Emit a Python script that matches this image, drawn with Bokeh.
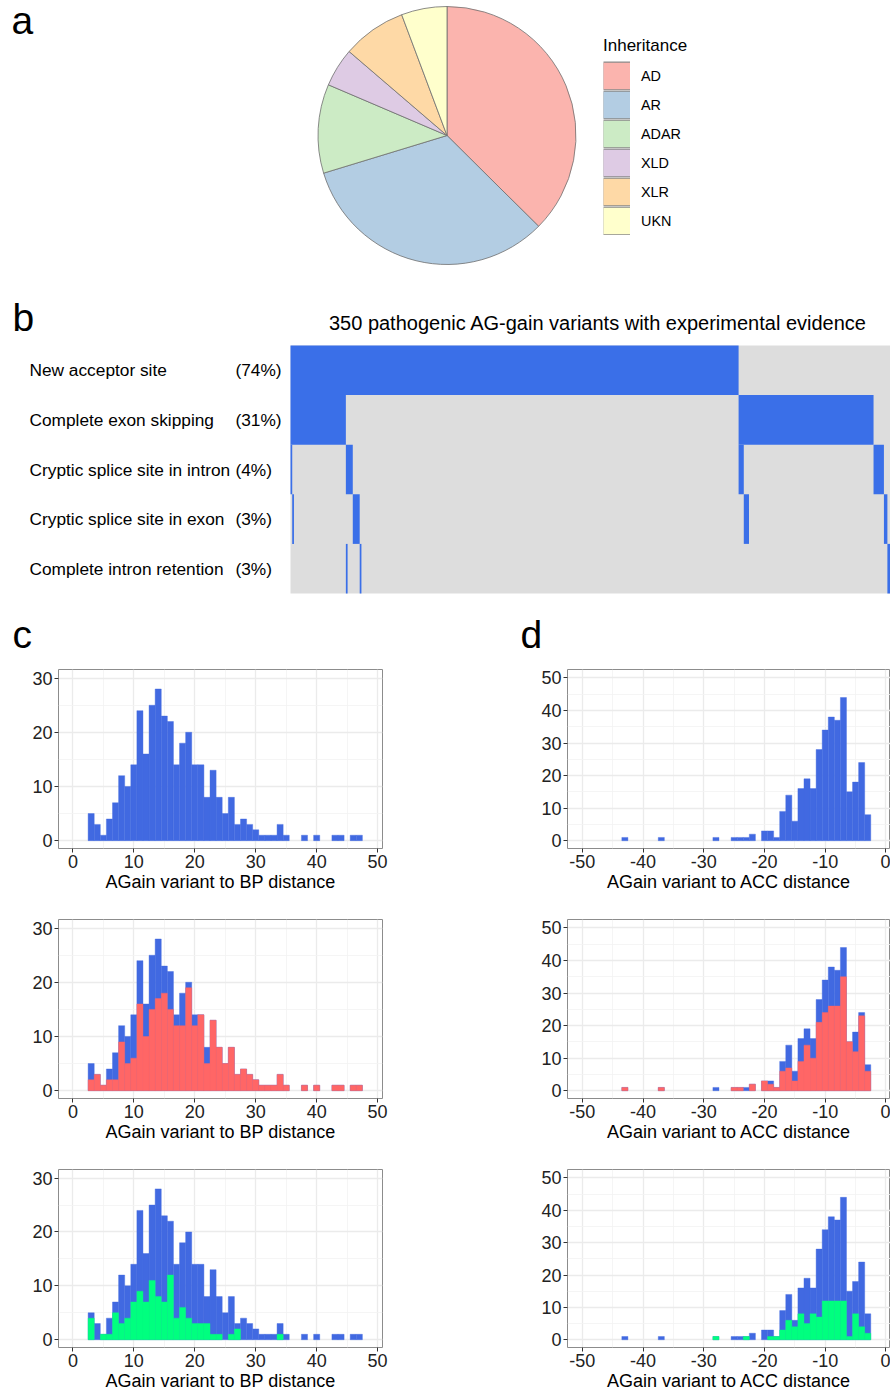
import numpy as np
from bokeh.plotting import figure
from bokeh.models import (ColumnDataSource, Legend, LegendItem, Label, LabelSet,
                          Range1d, FixedTicker, PrintfTickFormatter)
from bokeh.layouts import column, row
from bokeh.embed import file_html
from bokeh.resources import INLINE
from bokeh.core.properties import value

FONT = "Liberation Sans"

# ---------------- data: panel a ----------------
inheritance = ["AD", "AR", "ADAR", "XLD", "XLR", "UKN"]
inheritance_counts = [131, 115, 39, 17, 28, 20]
inheritance_colors = ["#FBB4AE", "#B3CDE3", "#CCEBC5", "#DECBE4", "#FED9A6", "#FFFFCC"]

# ---------------- data: panel b ----------------
outcomes = ["New acceptor site", "Complete exon skipping",
            "Cryptic splice site in intron", "Cryptic splice site in exon",
            "Complete intron retention"]
outcome_pct = ["(74%)", "(31%)", "(4%)", "(3%)", "(3%)"]
# each variant pattern (set of outcome rows) and the number of variants with it
combo_members = [[0, 1, 2], [0, 1, 3], [0, 1], [0, 2, 4], [0, 2], [0, 3], [0, 4], [0],
                 [1, 2], [1, 3], [1], [2], [3], [4]]
combo_counts = [1, 1, 30, 1, 3, 4, 1, 218, 3, 3, 72, 6, 2, 5]
n_variants = 350

# ---------------- data: panel c (distance to BP) ----------------
bp_bins = list(range(3, 48))
bp_all = [5, 3, 1, 4, 7, 12, 10, 14, 24, 16, 25, 28, 23, 22, 14, 18, 20, 14, 14, 8,
          13, 8, 5, 8, 3, 4, 3, 2, 1, 1, 1, 3, 1, 0, 0, 1, 0, 1, 0, 0, 1, 1, 0, 1, 1]
bp_red = [2, 3, 1, 2, 2, 9, 5, 6, 16, 10, 15, 17, 18, 15, 12, 12, 19, 12, 14, 5,
          13, 8, 5, 8, 3, 4, 3, 2, 1, 1, 1, 3, 1, 0, 0, 1, 0, 1, 0, 0, 1, 1, 0, 1, 1]
bp_green = [4, 0, 1, 1, 5, 3, 4, 7, 9, 7, 11, 8, 7, 12, 4, 6, 4, 3, 3, 3,
            1, 1, 0, 1, 2, 0, 0, 0, 0, 0, 0, 1, 0, 0, 0, 0, 0, 0, 0, 0, 0, 0, 0, 0, 0]

# ---------------- data: panel d (distance to ACC) ----------------
acc_bins = list(range(-43, -2))
acc_all = [1, 0, 0, 0, 0, 0, 1, 0, 0, 0, 0, 0, 0, 0, 0, 1, 0, 0, 1, 1, 1, 2, 0, 3, 3, 1,
           9, 14, 6, 16, 19, 16, 28, 34, 38, 37, 44, 15, 18, 24, 8]
acc_red = [1, 0, 0, 0, 0, 0, 1, 0, 0, 0, 0, 0, 0, 0, 0, 0, 0, 0, 1, 1, 0, 2, 0, 3, 2, 1,
           6, 7, 3, 9, 14, 10, 21, 24, 26, 26, 35, 15, 12, 23, 6]
acc_green = [0, 0, 0, 0, 0, 0, 0, 0, 0, 0, 0, 0, 0, 0, 0, 1, 0, 0, 0, 0, 1, 0, 0, 0, 1, 1,
             3, 6, 4, 8, 5, 8, 7, 12, 12, 12, 12, 1, 8, 4, 2]

BLUE = "#4169E1"
RED = "#FF6666"
GREEN = "#00FF7F"
PIE_LINE = "#6E6E6E"
TEXT = "black"


def bare_fig(width, height, xr, yr):
    p = figure(width=width, height=height, x_range=Range1d(*xr), y_range=Range1d(*yr),
               output_backend="svg", toolbar_location=None, min_border=0,
               x_axis_location=None, y_axis_location=None, frame_align=False)
    p.grid.visible = False
    p.outline_line_color = None
    return p


def letter(p, txt, x, y):
    p.add_layout(Label(x=x, y=y, x_units="screen", y_units="screen", text=txt,
                       text_font=FONT, text_font_size="39px", text_color=TEXT,
                       text_baseline="alphabetic"))


# ================= panel a: pie =================
R_PX = 129.0
pa = bare_fig(890, 290, (-446.5 / R_PX, 443.5 / R_PX), (-155 / R_PX, 135 / R_PX))
frac = np.cumsum([0] + inheritance_counts) / sum(inheritance_counts)
pie_src = ColumnDataSource(dict(cat=inheritance, color=inheritance_colors,
                                start=np.pi / 2 - frac[:-1] * 2 * np.pi,
                                end=np.pi / 2 - frac[1:] * 2 * np.pi))
pa.wedge(x=0, y=0, radius=1, start_angle="start", end_angle="end",
         direction="clock", fill_color="color", line_color=PIE_LINE,
         line_width=0.8, source=pie_src)
items = []
for cat, col in zip(inheritance, inheritance_colors):
    # single-point lines: invisible in the plot, used only as legend keys
    r_border = pa.line(x=[0], y=[0], line_color="#8A8A8A", line_width=29,
                       line_cap="butt")
    r_fill = pa.line(x=[0], y=[0], line_color=col, line_width=26.5, line_cap="butt")
    items.append(LegendItem(label=cat, renderers=[r_border, r_fill]))
legend = Legend(items=items, location=(603, 55), title="Inheritance",
                title_text_font=FONT, title_text_font_size="17px",
                title_text_font_style="normal", title_text_color=TEXT,
                title_standoff=5, label_text_font=FONT, label_text_font_size="14.4px",
                label_text_color=TEXT, glyph_width=27, glyph_height=29,
                label_height=29, spacing=0, label_standoff=11, padding=0, margin=0,
                border_line_color=None, background_fill_alpha=0)
pa.add_layout(legend)
letter(pa, "a", 11, 270)

# ================= panel b: outcome matrix =================
COL_PX = 600 / 346.8
ROW_PX = 49.6
pb = bare_fig(890, 310, (-290 / COL_PX, 346.8), (5 + 7 / ROW_PX, -55 / ROW_PX))
pb.quad(left=[0], right=[n_variants], top=[0], bottom=[len(outcomes)],
        fill_color="#DDDDDD", line_color=None)
# contiguous runs of blue cells per outcome row
lefts, rights, tops, bottoms = [], [], [], []
for r in range(len(outcomes)):
    pos = 0
    run_start = None
    for members, cnt in zip(combo_members, combo_counts):
        if r in members:
            if run_start is None:
                run_start = pos
        elif run_start is not None:
            lefts.append(run_start); rights.append(pos); tops.append(r); bottoms.append(r + 1)
            run_start = None
        pos += cnt
    if run_start is not None:
        lefts.append(run_start); rights.append(pos); tops.append(r); bottoms.append(r + 1)
pb.quad(left=lefts, right=rights, top=tops, bottom=bottoms, fill_color="#3A6FE8",
        line_color=None)
row_src = ColumnDataSource(dict(y=[i + 0.5 for i in range(len(outcomes))],
                                name=outcomes, pct=outcome_pct))
pb.add_layout(LabelSet(x=29, y="y", x_units="screen", y_units="data", text="name",
                       source=row_src, text_font=value(FONT), text_font_size="17.3px",
                       text_color=TEXT, text_baseline="middle", text_align="left"))
pb.add_layout(LabelSet(x=235, y="y", x_units="screen", y_units="data", text="pct",
                       source=row_src, text_font=value(FONT), text_font_size="17.3px",
                       text_color=TEXT, text_baseline="middle", text_align="left"))
pb.add_layout(Label(x=597.5, y=278, x_units="screen", y_units="screen",
                    text=f"{n_variants} pathogenic AG-gain variants with experimental evidence",
                    text_font=FONT, text_font_size="20px", text_color=TEXT,
                    text_baseline="middle", text_align="center"))
letter(pb, "b", 12, 283)

# ================= letters c, d =================
pl = bare_fig(890, 62, (0, 1), (0, 1))
letter(pl, "c", 12, 28)
letter(pl, "d", 520, 28)


# ================= panels c, d: histograms =================
def hist_fig(centers, layers, colors, xr, yr, xmaj, xmin, ymaj, ymin, xlabel,
             width, height, bl, br, bt, bb):
    p = figure(width=width, height=height, x_range=Range1d(*xr), y_range=Range1d(*yr),
               output_backend="svg", toolbar_location=None, min_border_left=bl,
               min_border_right=br, min_border_top=bt, min_border_bottom=bb,
               frame_align=False)
    p.xaxis.ticker = FixedTicker(ticks=xmaj, minor_ticks=xmin)
    p.yaxis.ticker = FixedTicker(ticks=ymaj, minor_ticks=ymin)
    p.xaxis.formatter = PrintfTickFormatter(format="%d")
    p.yaxis.formatter = PrintfTickFormatter(format="%d")
    for g in (p.xgrid[0], p.ygrid[0]):
        g.grid_line_color = "#EBEBEB"
        g.grid_line_width = 1.3
        g.minor_grid_line_color = "#F2F2F2"
        g.minor_grid_line_width = 0.8
    p.outline_line_color = "#8C8C8C"
    p.outline_line_width = 1
    for ax in (p.xaxis[0], p.yaxis[0]):
        ax.axis_line_color = None
        ax.major_tick_line_color = "#333333"
        ax.major_tick_out = 4
        ax.major_tick_in = 0
        ax.minor_tick_line_color = None
        ax.major_label_text_font = FONT
        ax.major_label_text_font_size = "18px"
        ax.major_label_text_color = "#222222"
        ax.major_label_standoff = 2
    p.xaxis.axis_label = xlabel
    p.xaxis.axis_label_text_font = FONT
    p.xaxis.axis_label_text_font_size = "18px"
    p.xaxis.axis_label_text_font_style = "normal"
    p.xaxis.axis_label_text_color = TEXT
    p.xaxis.axis_label_standoff = 1
    for counts, col in zip(layers, colors):
        cs = [c for c, n in zip(centers, counts) if n > 0]
        ns = [n for n in counts if n > 0]
        src = ColumnDataSource(dict(left=[c - 0.5 for c in cs],
                                    right=[c + 0.5 for c in cs], top=ns))
        p.quad(left="left", right="right", bottom=0, top="top", fill_color=col,
               line_color=col, line_width=0.4, source=src)
    return p


c_layers = [[bp_all], [bp_all, bp_red], [bp_all, bp_green]]
c_colors = [[BLUE], [BLUE, RED], [BLUE, GREEN]]
d_layers = [[acc_all], [acc_all, acc_red], [acc_all, acc_green]]
row_heights = [233, 250, 248]
rows = []
for k in range(3):
    h = row_heights[k]
    bt = 7 if k == 0 else 24
    bb = h - bt - 179
    pc = hist_fig(bp_bins, c_layers[k], c_colors[k], (-2.36, 50.8), (-1.45, 31.6),
                  [0, 10, 20, 30, 40, 50], [5, 15, 25, 35, 45], [0, 10, 20, 30],
                  [5, 15, 25], "AGain variant to BP distance", 445, h, 58, 63, bt, bb)
    pd_ = hist_fig(acc_bins, d_layers[k], c_colors[k], (-52.45, 0.75), (-2.4, 52.6),
                   [-50, -40, -30, -20, -10, 0], [-45, -35, -25, -15, -5],
                   [0, 10, 20, 30, 40, 50], [5, 15, 25, 35, 45],
                   "AGain variant to ACC distance", 445, h, 122, 0, bt, bb)
    rows.append(row(pc, pd_))

layout = column(pa, pb, pl, *rows)
open("out.html", "w").write(file_html(layout, INLINE))
